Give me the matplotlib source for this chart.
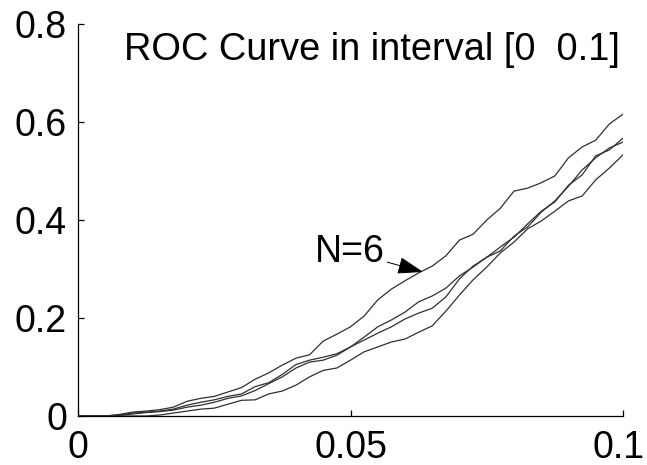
import matplotlib
matplotlib.use("Agg")
import matplotlib.pyplot as plt
import matplotlib.transforms as mtransforms

plt.rcParams['font.family'] = ['Liberation Sans', 'DejaVu Sans']

# False positive rate grid (0 .. 0.1)
fpr = [0.0, 0.0025, 0.005, 0.0075, 0.01, 0.0125, 0.015, 0.0175, 0.02, 0.0225,
       0.025, 0.0275, 0.03, 0.0325, 0.035, 0.0375, 0.04, 0.0425, 0.045, 0.0475,
       0.05, 0.0525, 0.055, 0.0575, 0.06, 0.0625, 0.065, 0.0675, 0.07, 0.0725,
       0.075, 0.0775, 0.08, 0.0825, 0.085, 0.0875, 0.09, 0.0925, 0.095, 0.0975, 0.1]

tpr_n6 = [0, 0, 0, 0.003, 0.008, 0.010, 0.013, 0.018, 0.030, 0.036,
          0.040, 0.049, 0.058, 0.075, 0.088, 0.104, 0.118, 0.125, 0.153, 0.167,
          0.182, 0.204, 0.237, 0.259, 0.276, 0.292, 0.306, 0.327, 0.359, 0.371,
          0.400, 0.424, 0.459, 0.465, 0.476, 0.490, 0.527, 0.549, 0.563, 0.596, 0.616]

tpr_b = [0, 0, 0, 0.002, 0.006, 0.008, 0.010, 0.014, 0.022, 0.028,
         0.033, 0.040, 0.045, 0.060, 0.068, 0.085, 0.105, 0.114, 0.120, 0.127,
         0.141, 0.161, 0.182, 0.196, 0.212, 0.233, 0.245, 0.261, 0.286, 0.304,
         0.324, 0.345, 0.365, 0.392, 0.418, 0.437, 0.471, 0.492, 0.531, 0.543, 0.567]

tpr_c = [0, 0, 0, 0.001, 0.004, 0.007, 0.009, 0.012, 0.018, 0.022,
         0.028, 0.036, 0.041, 0.052, 0.066, 0.080, 0.098, 0.110, 0.114, 0.124,
         0.141, 0.155, 0.169, 0.182, 0.198, 0.210, 0.220, 0.243, 0.280, 0.306,
         0.324, 0.337, 0.367, 0.386, 0.416, 0.439, 0.469, 0.502, 0.527, 0.547, 0.559]

tpr_d = [0, 0, 0, 0, 0, 0, 0.002, 0.006, 0.010, 0.014,
         0.016, 0.024, 0.032, 0.033, 0.045, 0.051, 0.063, 0.080, 0.093, 0.098,
         0.114, 0.131, 0.141, 0.151, 0.157, 0.171, 0.184, 0.214, 0.247, 0.278,
         0.304, 0.333, 0.355, 0.382, 0.398, 0.418, 0.439, 0.449, 0.482, 0.506, 0.533]

xticks = [0, 0.05, 0.1]
xtick_labels = ['0', '0.05', '0.1']
yticks = [0, 0.2, 0.4, 0.6, 0.8]
ytick_labels = ['0', '0.2', '0.4', '0.6', '0.8']

title_text = 'ROC Curve in interval [0  0.1]'
annot_text = 'N=6'

fig = plt.figure(figsize=(6.47, 4.65), dpi=100)
ax = fig.add_axes([78/647, 1 - 416/465, (623-78)/647, (416-24)/465])

for series in (tpr_n6, tpr_b, tpr_c, tpr_d):
    ax.plot(fpr, series, color='#303030', lw=0.9)

ax.set_xlim(0, 0.1)
ax.set_ylim(0, 0.8)
ax.set_xticks(xticks)
ax.set_xticklabels(xtick_labels)
ax.set_yticks(yticks)
ax.set_yticklabels(ytick_labels)
ax.spines['top'].set_visible(False)
ax.spines['right'].set_visible(False)
for s in ('left', 'bottom'):
    ax.spines[s].set_linewidth(0.9)
ax.tick_params(direction='in', length=4, width=0.9, labelsize=27)
ax.tick_params(axis='x', pad=10)
ax.tick_params(axis='y', pad=8)

ax.text(0.0084, 0.727, title_text, fontsize=27.4, ha='left', va='baseline')

ax.annotate(annot_text, xy=(0.0633, 0.294), xytext=(0.0434, 0.335),
            fontsize=27, ha='left', va='center',
            arrowprops=dict(arrowstyle='-|>,head_length=0.8,head_width=0.27',
                            mutation_scale=20, color='black', lw=0.7,
                            shrinkA=0, shrinkB=0))

# nudge the last x tick label slightly left so it stays inside the figure
fig.canvas.draw()
last_lbl = ax.xaxis.get_major_ticks()[-1].label1
last_lbl.set_transform(last_lbl.get_transform() +
                       mtransforms.ScaledTranslation(-4/100, 0, fig.dpi_scale_trans))

fig.savefig('out.png', dpi=100)
